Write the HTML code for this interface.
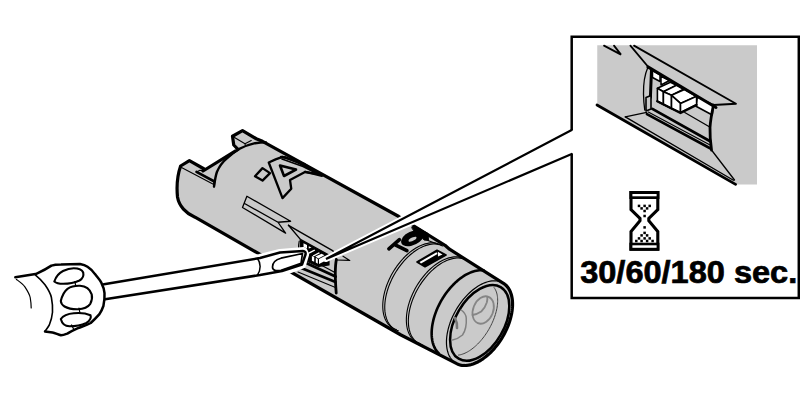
<!DOCTYPE html>
<html><head><meta charset="utf-8">
<style>
html,body{margin:0;padding:0;background:#fff;width:800px;height:400px;overflow:hidden}
svg{display:block;position:absolute;left:0;top:0}
.t{font-family:"Liberation Sans",sans-serif;font-weight:bold}
</style></head><body>
<svg width="800" height="400" viewBox="0 0 800 400">
<g fill="none" stroke="#000" stroke-linejoin="round" stroke-linecap="round">
<g id="inset">
  <polygon points="597.25,45.25 757,45.25 757,184.5 735.6,184.5 597.25,105.2" fill="#cacaca" stroke="none"/>
  <path d="M604,45.6 L621,54.6 L614,45.6" stroke-width="1.8" stroke-linejoin="miter"/>
  <path d="M630.4,45.6 L647.9,66.5" stroke-width="1.8"/>
  <path d="M634,45.6 L736,103.75 L713.5,105" stroke-width="1.8"/>
  <!-- slot interior -->
  <path d="M648,67 L716,107.5 L712.25,115 L710,140 L647,111.9 Z" fill="#cacaca" stroke="none"/>
  <!-- white cells -->
  <path d="M652.5,70.5 L660,74.8 L660,81.5 L652.5,77.5 Z" fill="#fff" stroke="#000" stroke-width="1.5"/>
  <path d="M661,76.25 L669.5,80.5 L661,85 Z" fill="#fff" stroke="#000" stroke-width="1.5"/>
  <path d="M697.25,96.9 L713.5,105 L712.25,115 L696,106.25 Z" fill="#fff" stroke="#000" stroke-width="1.6"/>
  <!-- cubes -->
  <path d="M657.4,88.3 L670.4,82.2 L676.5,85.2 L663.4,91.8 Z" fill="#fff" stroke="#000" stroke-width="1.6"/>
  <path d="M657.4,88.3 L663.4,91.8 L663.4,104.5 L657.4,101.3 Z" fill="#fff" stroke="#000" stroke-width="1.6"/>
  <path d="M663.4,91.8 L676.5,85.2 L683.5,89.3 L671.5,95.3 Z" fill="#fff" stroke="#000" stroke-width="1.6"/>
  <path d="M663.4,91.8 L671.5,95.3 L671.5,108.5 L663.4,104.5 Z" fill="#fff" stroke="#000" stroke-width="1.6"/>
  <path d="M671.5,95.3 L684.5,89.5 L696.6,96.3 L680.5,103.4 Z" fill="#fff" stroke="#000" stroke-width="1.6"/>
  <path d="M671.5,95.3 L680.5,103.4 L680.5,112.4 L671.5,108.5 Z" fill="#fff" stroke="#000" stroke-width="1.6"/>
  <path d="M680.5,103.4 L696.6,96.3 L696.6,104.4 L680.5,112.4 Z" fill="#fff" stroke="#000" stroke-width="1.6"/>
  <path d="M657.25,101.25 L680.5,113 L696.6,105" stroke-width="2.4"/>
  <!-- slot frame -->
  <path d="M647.9,66.9 L716,107.5" stroke-width="3"/>
  
  <path d="M647.9,67.2 C644.5,75 643.3,85 643.5,94 C643.6,100 644,105 644.75,110" stroke-width="1.3"/>
  <path d="M651.5,69.5 L650.4,97.5" stroke-width="3"/>
  <path d="M646,97.5 L651,95.5 L651,109 L646,111 Z" fill="#c8c8c8" stroke-width="1.6"/>
  <path d="M713.5,105 C712,112 710.5,120 710,127.5 C709.8,135 710.5,143 711.5,150" stroke-width="2.8"/>
  <path d="M684.75,112.5 L709.75,127" stroke-width="1.3"/>
  <path d="M652.4,108.9 L710.1,141.3" stroke-width="2.8"/>
  <path d="M648.3,112 L710.1,145" stroke-width="1.1"/>
  <path d="M646.9,114.2 L710.5,148.5" stroke-width="2.6"/>
  <path d="M625.3,116.9 L646.7,112.4" stroke-width="1.3"/>
  <path d="M625.3,116.9 L733.4,180.2" stroke-width="1.3"/>
  <path d="M711.5,150 L734.5,180" stroke-width="1.3"/>
  <path d="M597,105 L735.6,184.4" stroke-width="2.8"/>
</g>
<path d="M180.6,166 L189.4,160.6 L203.75,168.75 L203,171 L238,149.4 L233.75,145 L232.5,136.25 L242.5,130.6 L256.25,138.75 L262.5,141.3 L398.8,216.5 L445,245.3 L449.5,249.2 L503.47,283.31 L504.61,284.11 L505.68,285.00 L506.69,286.00 L507.62,287.10 L508.47,288.29 L509.25,289.57 L509.95,290.95 L510.57,292.41 L511.11,293.95 L511.57,295.56 L511.93,297.26 L512.22,299.02 L512.41,300.84 L512.52,302.72 L512.54,304.66 L512.48,306.65 L512.32,308.68 L512.08,310.75 L511.75,312.85 L511.34,314.98 L510.84,317.13 L510.26,319.29 L509.60,321.47 L508.86,323.65 L508.04,325.83 L507.14,328.00 L506.17,330.16 L505.13,332.31 L504.02,334.42 L502.85,336.51 L501.61,338.56 L500.32,340.57 L498.97,342.54 L497.57,344.45 L496.12,346.31 L494.63,348.10 L493.10,349.83 L491.53,351.49 L489.93,353.07 L488.30,354.58 L486.65,356.00 L484.98,357.33 L483.29,358.57 L481.60,359.72 L479.90,360.77 L478.20,361.72 L476.50,362.57 L474.81,363.32 L473.13,363.96 L471.47,364.49 L469.83,364.91 L468.21,365.22 L466.63,365.41 L465.08,365.50 L463.57,365.47 L462.10,365.33 L460.68,365.08 L459.30,364.72 L457.98,364.25 L456.72,363.67 L401,335 L195,217.2 C186,213.5 179,206 177.5,197 C176.5,187 177.5,175 180.6,166 Z" fill="#cacaca" stroke="#000" stroke-width="3.2"/>
<path d="M234.5,137.5 L245,143.75 L245.6,146.5" stroke-width="1.1"/>
<path d="M245,143.75 L251.25,140.6" stroke-width="1.1"/>
<path d="M181.5,167.5 L213.8,184.6" stroke-width="1.1"/>
<path d="M196.5,171.9 L214.4,181.5" stroke-width="2.6"/>
<path d="M196.5,171.9 L200,170.2 L203,170.5" stroke-width="1.1"/>
<path d="M214,186.5 C214.8,181 215.5,176 216.9,172 C219.5,166 222.5,162 226.9,158.4 C230.5,155 234,152 238.2,149.4 C243,147 249,144.5 255,143.2 C259,142.6 262,142.4 266,142.4" stroke-width="2.4"/>
<path d="M214.4,181.5 L214,186.5" stroke-width="2"/>
<path d="M246.9,196.25 L290.6,221.25 L278,222.25 L285.6,233.1 L242.5,207.5 Z M245,203.75 L278,222.25" stroke-width="1.3"/>
<path d="M255,176.25 L262.5,168.1 L270,173.1 L262.5,180.6 Z" stroke-width="2.3"/>
<path d="M268.75,162.5 L275.6,159.4 L282.5,156.9 L303.75,163.75 L320,174.4 L305,171.9 L290,180 L291.25,188.75 L282.5,198.1 Z" stroke-width="2.3"/>
<path d="M280,165.5 L296,169.6 L284,176 Z" stroke-width="2.6"/>
<path d="M281,157 L286,157.5 L300,163.5 L322,175.8 L314,174 L305,171.9" stroke-width="2.3"/>
<path d="M282,159 L303,166.5 L318,174" stroke-width="1.6"/>
<path d="M396.31,329.57 L394.85,329.05 L393.45,328.41 L392.13,327.64 L390.88,326.75 L389.71,325.74 L388.62,324.61 L387.61,323.37 L386.69,322.02 L385.87,320.56 L385.13,319.00 L384.49,317.35 L383.95,315.60 L383.51,313.76 L383.17,311.85 L382.93,309.86 L382.79,307.80 L382.75,305.67 L382.81,303.49 L382.98,301.26 L383.25,298.98 L383.62,296.67 L384.09,294.33 L384.66,291.96 L385.32,289.58 L386.08,287.19 L386.94,284.80 L387.88,282.41 L388.91,280.04 L390.02,277.68 L391.21,275.35 L392.48,273.06 L393.83,270.80 L395.24,268.60 L396.72,266.44 L398.26,264.35 L399.86,262.33 L401.50,260.37 L403.19,258.50 L404.93,256.71 L406.70,255.00 L408.50,253.40 L410.33,251.89 L412.17,250.48 L414.03,249.19 L415.90,248.00 L417.78,246.93 L419.65,245.98 L421.51,245.15 L423.36,244.45 L425.19,243.87 L426.99,243.42 L428.77,243.10 L430.51,242.90 L432.21,242.84 L433.87,242.91 L435.47,243.11 L437.02,243.44 L438.51,243.90 L439.93,244.49 L441.29,245.20" stroke="#000" stroke-width="1.1" fill="none" />
<path d="M398.31,330.77 L396.86,330.26 L395.48,329.63 L394.17,328.87 L392.93,327.99 L391.77,327.00 L390.68,325.89 L389.68,324.67 L388.77,323.34 L387.94,321.91 L387.20,320.37 L386.56,318.75 L386.02,317.03 L385.56,315.22 L385.21,313.34 L384.96,311.38 L384.80,309.35 L384.75,307.26 L384.79,305.11 L384.94,302.91 L385.18,300.67 L385.53,298.39 L385.97,296.08 L386.51,293.74 L387.15,291.39 L387.87,289.03 L388.69,286.66 L389.60,284.30 L390.59,281.94 L391.67,279.61 L392.82,277.29 L394.06,275.01 L395.36,272.77 L396.74,270.57 L398.18,268.42 L399.68,266.32 L401.24,264.29 L402.85,262.33 L404.51,260.44 L406.20,258.64 L407.94,256.92 L409.71,255.28 L411.51,253.75 L413.33,252.31 L415.16,250.98 L417.01,249.76 L418.86,248.64 L420.71,247.64 L422.56,246.76 L424.40,246.00 L426.22,245.36 L428.02,244.85 L429.79,244.46 L431.53,244.20 L433.24,244.06 L434.90,244.05 L436.52,244.18 L438.09,244.43 L439.60,244.80 L441.05,245.30 L442.43,245.93" stroke="#000" stroke-width="1.1" fill="none" />
<path d="M419.91,343.57 L418.45,343.05 L417.05,342.41 L415.73,341.64 L414.48,340.75 L413.31,339.74 L412.22,338.61 L411.21,337.37 L410.29,336.02 L409.47,334.56 L408.73,333.00 L408.09,331.35 L407.55,329.60 L407.11,327.76 L406.77,325.85 L406.53,323.86 L406.39,321.80 L406.35,319.67 L406.41,317.49 L406.58,315.26 L406.85,312.98 L407.22,310.67 L407.69,308.33 L408.26,305.96 L408.92,303.58 L409.68,301.19 L410.54,298.80 L411.48,296.41 L412.51,294.04 L413.62,291.68 L414.81,289.35 L416.08,287.06 L417.43,284.80 L418.84,282.60 L420.32,280.44 L421.86,278.35 L423.46,276.33 L425.10,274.37 L426.79,272.50 L428.53,270.71 L430.30,269.00 L432.10,267.40 L433.93,265.89 L435.77,264.48 L437.63,263.19 L439.50,262.00 L441.38,260.93 L443.25,259.98 L445.11,259.15 L446.96,258.45 L448.79,257.87 L450.59,257.42 L452.37,257.10 L454.11,256.90 L455.81,256.84 L457.47,256.91 L459.07,257.11 L460.62,257.44 L462.11,257.90 L463.53,258.49 L464.89,259.20" stroke="#000" stroke-width="1.1" fill="none" />
<path d="M421.91,344.77 L420.46,344.26 L419.08,343.63 L417.77,342.87 L416.53,341.99 L415.37,341.00 L414.28,339.89 L413.28,338.67 L412.37,337.34 L411.54,335.91 L410.80,334.37 L410.16,332.75 L409.62,331.03 L409.16,329.22 L408.81,327.34 L408.56,325.38 L408.40,323.35 L408.35,321.26 L408.39,319.11 L408.54,316.91 L408.78,314.67 L409.13,312.39 L409.57,310.08 L410.11,307.74 L410.75,305.39 L411.47,303.03 L412.29,300.66 L413.20,298.30 L414.19,295.94 L415.27,293.61 L416.42,291.29 L417.66,289.01 L418.96,286.77 L420.34,284.57 L421.78,282.42 L423.28,280.32 L424.84,278.29 L426.45,276.33 L428.11,274.44 L429.80,272.64 L431.54,270.92 L433.31,269.28 L435.11,267.75 L436.93,266.31 L438.76,264.98 L440.61,263.76 L442.46,262.64 L444.31,261.64 L446.16,260.76 L448.00,260.00 L449.82,259.36 L451.62,258.85 L453.39,258.46 L455.13,258.20 L456.84,258.06 L458.50,258.05 L460.12,258.18 L461.69,258.43 L463.20,258.80 L464.65,259.30 L466.03,259.93" stroke="#000" stroke-width="1.1" fill="none" />
<path d="M438.85,353.37 L437.91,352.44 L437.02,351.43 L436.20,350.34 L435.45,349.18 L434.75,347.94 L434.13,346.62 L433.57,345.24 L433.08,343.79 L432.66,342.28 L432.32,340.70 L432.04,339.07 L431.84,337.39 L431.71,335.65 L431.65,333.87 L431.67,332.05 L431.76,330.18 L431.92,328.29 L432.15,326.36 L432.46,324.41 L432.84,322.43 L433.29,320.44 L433.81,318.43 L434.40,316.41 L435.05,314.39 L435.77,312.36 L436.56,310.34 L437.41,308.33 L438.32,306.33 L439.29,304.35 L440.31,302.38 L441.39,300.45 L442.52,298.54 L443.71,296.66 L444.94,294.82 L446.21,293.02 L447.53,291.27 L448.89,289.57 L450.28,287.91 L451.70,286.32 L453.16,284.78 L454.64,283.31 L456.15,281.90 L457.68,280.56 L459.23,279.29 L460.79,278.09 L462.36,276.98 L463.94,275.94 L465.52,274.98 L467.10,274.11 L468.69,273.32 L470.26,272.62 L471.83,272.00 L473.38,271.48 L474.92,271.05 L476.44,270.71 L477.93,270.46 L479.40,270.30 L480.84,270.24 L482.25,270.28 L483.63,270.40" stroke="#000" stroke-width="2.6" fill="none" />
<path d="M456.72,363.67 L455.48,362.96 L454.31,362.13 L453.20,361.19 L452.18,360.15 L451.23,359.00 L450.36,357.75 L449.57,356.40 L448.87,354.96 L448.25,353.43 L447.72,351.81 L447.29,350.11 L446.94,348.34 L446.69,346.49 L446.52,344.58 L446.46,342.60 L446.48,340.58 L446.60,338.50 L446.81,336.38 L447.12,334.22 L447.52,332.03 L448.00,329.81 L448.58,327.58 L449.24,325.33 L449.99,323.08 L450.82,320.83 L451.74,318.58 L452.73,316.35 L453.80,314.14 L454.94,311.95 L456.15,309.79 L457.43,307.67 L458.77,305.60 L460.16,303.57 L461.62,301.60 L463.12,299.69 L464.67,297.85 L466.26,296.08 L467.89,294.39 L469.55,292.77 L471.24,291.25 L472.96,289.81 L474.69,288.47 L476.43,287.22 L478.19,286.08 L479.95,285.04 L481.70,284.12 L483.45,283.30 L485.19,282.59 L486.92,282.00 L488.62,281.52 L490.29,281.17 L491.94,280.93 L493.55,280.81 L495.12,280.81 L496.65,280.93 L498.13,281.17 L499.55,281.53 L500.92,282.01 L502.23,282.60 L503.47,283.31" stroke-width="1.2"/>
<ellipse cx="479.7" cy="322.9" rx="24.2" ry="41.5" transform="rotate(30.4 479.7 322.9)" fill="none" stroke="#000" stroke-width="2.5"/>
<path d="M494.06,287.56 L494.62,288.34 L495.13,289.17 L495.59,290.05 L496.01,290.99 L496.38,291.97 L496.71,293.01 L496.99,294.09 L497.22,295.22 L497.40,296.39 L497.54,297.60 L497.62,298.85 L497.66,300.14 L497.65,301.46 L497.59,302.82 L497.48,304.20 L497.32,305.61 L497.11,307.04 L496.86,308.50 L496.56,309.97 L496.21,311.46 L495.81,312.97 L495.37,314.48 L494.88,316.01 L494.35,317.54 L493.78,319.07 L493.17,320.60 L492.51,322.13 L491.81,323.66 L491.08,325.17 L490.31,326.68 L489.50,328.17 L488.66,329.65 L487.79,331.10 L486.88,332.54 L485.95,333.95 L484.98,335.33 L483.99,336.69 L482.98,338.01 L481.95,339.30 L480.89,340.55 L479.82,341.76 L478.72,342.94 L477.62,344.07 L476.50,345.15 L475.37,346.19 L474.23,347.18 L473.08,348.11 L471.93,349.00 L470.78,349.83 L469.63,350.61 L468.47,351.33 L467.33,351.99 L466.18,352.59 L465.05,353.13 L463.92,353.61 L462.81,354.03 L461.71,354.39 L460.63,354.68 L459.56,354.91 L458.52,355.07" stroke="#444" stroke-width="1.0" fill="none" />
<path d="M288.5,225.3 L300.4,239.4" stroke-width="1.4"/>
<path d="M288.5,225.3 L333,250.8 L336.3,259.5" stroke-width="1.4"/>
<path d="M300.4,239.4 L329,255 L329,265 L318.5,266.5 L300,258 Z" fill="#000" stroke="#000" stroke-width="1.2"/>
<path d="M299.2,241 C298.5,244 298.3,247 298.5,250" stroke-width="1.1"/>
<path d="M303.5,243.2 L307,245 L307,248.5 L303.5,246.8 Z" fill="#fff" stroke="none"/>
<path d="M308.75,246.2 L311.5,247.6 L308.75,248.6 Z" fill="#fff" stroke="none"/>
<path d="M308.5,252.5 L314.4,249.4 L315.2,250.6 L309.3,253.7 Z" fill="#fff" stroke="none"/>
<path d="M312.8,255.4 L319,252.2 L319.8,253.3 L313.6,256.5 Z" fill="#fff" stroke="none"/>
<path d="M311.9,256 L314.2,257 L314.2,261.8 L311.9,260.8 Z" fill="#fff" stroke="none"/>
<path d="M315.3,256.6 L321.6,253.75 L324.4,255.3 L318.4,258.4 Z" fill="#fff" stroke="none"/>
<path d="M315.8,257.8 L317.8,259 L317.8,263.8 L315.8,262.6 Z" fill="#fff" stroke="none"/>
<path d="M319,259 L324.4,256.3 L324.4,261.2 L319,264 Z" fill="#fff" stroke="none"/>
<path d="M321,265 L334,272" stroke-width="1.2"/>
<path d="M305,262.5 L335.5,276.5" stroke-width="3"/>
<path d="M300,267.5 L335.5,282" stroke-width="2.6"/>
<path d="M298,272 L335.5,287.5" stroke-width="1.1"/>
<path d="M336.4,259.5 C335,266 334.8,275 336.2,293" stroke-width="2.8"/>
<path d="M335.5,260 L349.75,260.4 L343,256.25" stroke-width="1.2"/>
<path d="M417,262 L437,250.2 L446,255 L425,266.8 Z" fill="#000" stroke-width="1.6"/>
<path d="M419.5,262 L436.5,252.2 L437.5,254 L421,263.5 Z" fill="#fff" stroke="none"/>
<path d="M437.8,251.8 L442.5,254.5 L438,256.5 Z" fill="#fff" stroke="none"/>
<path d="M388.9,248.9 L399.4,239.7 M394.2,244.3 L406.9,250.6" stroke-width="3.6" stroke-linecap="round"/>
<path d="M401.2,240.5 A11.5,6.6 -25 1 1 423.8,235.9 A11.5,6.6 -25 1 1 401.2,240.5 Z M408.6,240.6 A4.3,1.5 -25 1 1 416.4,237.8 A4.3,1.5 -25 1 1 408.6,240.6 Z" fill="#000" fill-rule="evenodd" stroke="none"/>
<path d="M412,227.5 L416,226.8 L428,233.5 L428.5,240.5 L424,240 L421,236 L414,231 Z" fill="#000" stroke="#000" stroke-width="1"/>
<path d="M428,240.5 L436,243.5" stroke-width="1.2"/>
<ellipse cx="483.2" cy="310" rx="10" ry="14.2" transform="rotate(22 483.2 310)" fill="none" stroke="#868686" stroke-width="1.8"/>
<path d="M472.5,315 C476,314.5 479,313 481.25,311.5 C484,309 486,305 486.8,302.5 C487.5,300 487.5,298.5 487.3,297" stroke="#868686" stroke-width="1.8"/>
<path d="M461.25,310 C464,312 466,315 466.25,318 C466.5,322 466,330 462.5,335 C459,338 456,339.5 452.5,340" stroke="#808080" stroke-width="1.5"/>
<path d="M455,318 C456.5,321 457.5,324 457,328" stroke="#777" stroke-width="2.6"/>
<path d="M15.3,277.3 L35.5,274.1 C40,272 45,269.9 51.4,265.6 L80,263.9 C90,268 98,276 101.3,282.6 L104,284.2 L260,257.5 L280,252.5 L303.75,250.6 L305.6,254.4 L302.5,265 L287.5,270.6 L260,275 L104.5,299.2 C102,310 96,318 90.7,323 C80,328 70,333 61,335.3 L45,331.4 C38,322 33,314 31.2,308 Z" fill="#fff" stroke="#fff" stroke-width="7"/>
<path d="M15.3,277.3 L35.5,274.1 C40,272 45,269.9 51.4,265.6 C54,264.8 57,264.6 61,264.6 L80,263.9 C83,264.5 85,265 87.5,266.7 C91,269 93,271 95,274.1 C98,278 100,280 101.3,282.6 C103,286 104.3,290 104.5,293.2 C104.8,297 104.2,302 103.4,306 C102,310 101,312 99.2,314.4 C96,318 94,320 90.7,323 C86,325.5 82,326.5 78,328.2 C74,330 70,332 67.3,333.6 C65,334.5 63,335.3 61,335.3 C58,334.5 55,333 52.5,332.5 L45,331.4" fill="none" stroke="#000" stroke-width="2.5"/>
<path d="M104,284.2 L260,258 L280,252.5 L303,251 C305,251 306,252.5 305.5,254.5 L302,264.5 L282,271 L260,275 L105,299.2" fill="none" stroke="#000" stroke-width="2.5"/>
<path d="M16.4,279.4 C20,282 23,284 24.9,286.8 C27,290 29.5,294 30.2,297.5 C30.8,301 31.2,305 31.2,308" stroke-width="1.2"/>
<path d="M35.5,275.2 C39,278 42,281 45,284.7 C48,289 50.5,293 51.4,297.5 C52.3,302 52.8,307 52.5,312.3 C52,318 50.5,322 49.3,325 C47.5,328 46,330 45,331.4" stroke-width="1.6"/>
<path d="M257.5,258.5 C261,263 261,270 257.5,275" stroke-width="1.5"/>
<path d="M272.5,267 C272.5,262.5 276,259.5 281,258.2 L302.5,253.5 L301,263.3 L281,270.3 C276,271.3 272.5,270.5 272.5,267 Z" stroke-width="1.7"/>
<path d="M54.3,281.5 C56,276.5 59,273 63,271 C67,269 70,268.2 73.7,268.2 C78,268.2 82,269.5 83.2,272.5 C84,276 82,279 79.5,280.5 C75,282.5 69,283.8 63.1,283.8 C59,283.8 56,283 54.3,281.5 Z" stroke-width="2.1"/>
<path d="M60.8,301 C62,296 64,291.5 67.5,288.8 C71,286.5 75,285.6 80,285.8 C86,286.2 90,289.5 91.7,294.3 C92.5,298 91.8,301 90.3,303.8 C88,307 83,309 78,309.2 C73,309.3 68,308.5 64.5,306.5 C62,305 61,303 60.8,301 Z" stroke-width="2.1"/>
<path d="M60.8,319 C63,316 68,313.8 73.7,313.3 C79,312.8 86,313.3 90.5,315.2 C91.5,318 89.5,321 86.4,323 C81,325.3 75,326.3 69.4,326.3 C65,326.2 62,323.5 60.8,319 Z" stroke-width="2.1"/>
<path d="M74.8,281.5 L75.8,285.8 M79,308 L80,313.4 M71.6,325 L73.7,329.3" stroke-width="1.2"/>
<path d="M571.7,130 L326,259 L571.7,154 Z" fill="#fff" stroke="#fff" stroke-width="6" stroke-linejoin="round"/>
<path d="M571.7,130 L326,259 L571.7,154" stroke="#000" stroke-width="2.2" stroke-linejoin="miter"/>
<path d="M571.7,130 L571.7,36.8 L798.8,36.8 L798.8,298 L571.7,298 L571.7,154" stroke-width="2.5" stroke-linecap="butt" stroke-linejoin="miter"/>
<g id="hourglass">
  <path d="M631,192.5 H657.8 V209.5 L648.8,218.3 L648.8,220.7 L657.8,231.5 V249.2 H631 V231.5 L640,220.7 L640,218.3 L631,209.5 Z" stroke-width="3.1" stroke-linejoin="miter"/>
  <g fill="#000" stroke="none">
  <rect x="629.4" y="191" width="30" height="8"/>
  <rect x="629.4" y="242.7" width="30" height="8"/>
  <rect x="637.75" y="204.65" width="2.5" height="2.5"/>
  <rect x="643.35" y="204.65" width="2.5" height="2.5"/>
  <rect x="648.45" y="204.65" width="2.5" height="2.5"/>
  <rect x="640.35" y="207.15" width="2.5" height="2.5"/>
  <rect x="645.85" y="207.15" width="2.5" height="2.5"/>
  <rect x="643.35" y="209.75" width="2.5" height="2.5"/>
  <rect x="643.35" y="214.75" width="2.5" height="2.5"/>
  <rect x="643.35" y="226.15" width="2.5" height="2.5"/>
  <rect x="643.35" y="231.65" width="2.5" height="2.5"/>
  <rect x="640.35" y="234.15" width="2.5" height="2.5"/>
  <rect x="645.85" y="234.15" width="2.5" height="2.5"/>
  <rect x="637.75" y="237.15" width="2.5" height="2.5"/>
  <rect x="643.35" y="237.15" width="2.5" height="2.5"/>
  <rect x="648.45" y="237.15" width="2.5" height="2.5"/>
  <rect x="635.05" y="239.75" width="2.5" height="2.5"/>
  <rect x="640.35" y="239.75" width="2.5" height="2.5"/>
  <rect x="645.85" y="239.75" width="2.5" height="2.5"/>
  <rect x="651.35" y="239.75" width="2.5" height="2.5"/>
  </g>
  <rect x="632.4" y="194" width="24.2" height="2.3" fill="#fff" stroke="none"/>
  <rect x="632.4" y="245.3" width="24.2" height="2.5" fill="#fff" stroke="none"/>
</g>
<text x="580.2" y="283" class="t" font-size="30.5" fill="#000" stroke="#000" stroke-width="0.7" stroke-linejoin="miter" textLength="217" lengthAdjust="spacingAndGlyphs">30/60/180 sec.</text>
</g>
</svg>
</body></html>
